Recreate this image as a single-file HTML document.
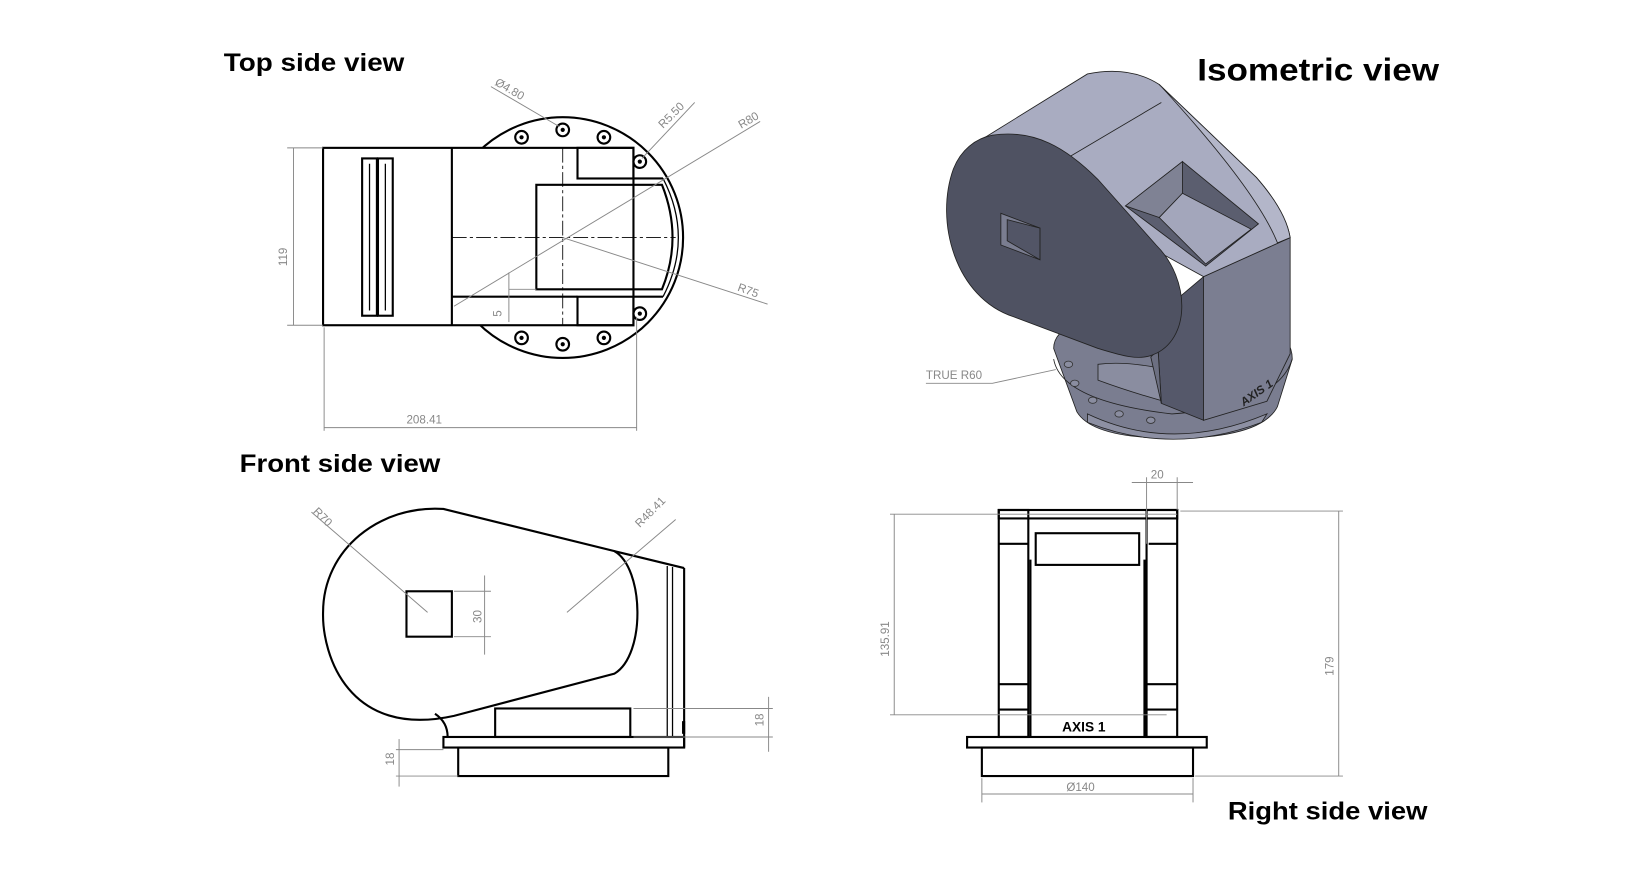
<!DOCTYPE html>
<html><head><meta charset="utf-8"><style>
html,body{margin:0;padding:0;background:#fff;}
svg{display:block;}
.t{font-family:"Liberation Sans",sans-serif;font-weight:bold;fill:#000;}
.d{font-family:"Liberation Sans",sans-serif;font-size:11px;fill:#888;}
.k{fill:none;stroke:#000;stroke-width:2;}
.k1{fill:none;stroke:#000;stroke-width:1.2;}
.g{fill:none;stroke:#888;stroke-width:0.9;}
.c{fill:none;stroke:#000;stroke-width:0.8;stroke-dasharray:14 3 3 3;}
</style></head><body>
<svg width="1647" height="869" viewBox="0 0 1560 823" xmlns="http://www.w3.org/2000/svg">
<rect width="1560" height="823" fill="#fff"/>
<text class="t" x="212" y="67" font-size="24" textLength="171" lengthAdjust="spacingAndGlyphs">Top side view</text>
<text class="t" x="1134" y="76" font-size="30" textLength="229" lengthAdjust="spacingAndGlyphs">Isometric view</text>
<text class="t" x="227" y="447" font-size="24" textLength="190" lengthAdjust="spacingAndGlyphs">Front side view</text>
<text class="t" x="1163" y="776" font-size="24" textLength="189" lengthAdjust="spacingAndGlyphs">Right side view</text>

<g>
<circle cx="533" cy="225" r="114" class="k" stroke-width="2.5"/>
<rect x="306" y="140" width="294" height="168" fill="#fff" stroke="#000" stroke-width="2"/>
<line x1="428" y1="140" x2="428" y2="308" class="k"/>
<rect x="547" y="140" width="53" height="29" class="k"/>
<rect x="547" y="281" width="53" height="27" class="k"/>
<line x1="428" y1="281" x2="547" y2="281" class="k"/>
<line x1="600" y1="169" x2="628" y2="169" class="k"/>
<line x1="600" y1="281" x2="628" y2="281" class="k"/>
<path d="M508,175 L627,175 Q647,225 627,274 L508,274 Z" class="k"/>
<path d="M628,169 Q657,225 628,281" class="k1"/>
<rect x="343" y="150" width="14" height="149" class="k"/>
<rect x="358" y="150" width="14" height="149" class="k"/>
<line x1="350" y1="155" x2="350" y2="294" class="k1"/>
<line x1="365" y1="155" x2="365" y2="294" class="k1"/>
<g fill="#fff" stroke="#000" stroke-width="2">
<circle cx="533" cy="123" r="6"/><circle cx="494" cy="130" r="6"/><circle cx="572" cy="130" r="6"/>
<circle cx="606" cy="153" r="6"/><circle cx="606" cy="297" r="6"/>
<circle cx="494" cy="320" r="6"/><circle cx="533" cy="326" r="6"/><circle cx="572" cy="320" r="6"/>
</g>
<g fill="#000"><circle cx="533" cy="123" r="2"/><circle cx="494" cy="130" r="2"/><circle cx="572" cy="130" r="2"/><circle cx="606" cy="153" r="2"/><circle cx="606" cy="297" r="2"/><circle cx="494" cy="320" r="2"/><circle cx="533" cy="326" r="2"/><circle cx="572" cy="320" r="2"/></g>
<line x1="533" y1="140" x2="533" y2="308" class="c"/>
<line x1="428" y1="225" x2="640" y2="225" class="c"/>
<line x1="465" y1="82" x2="530" y2="120" class="g"/>
<text class="d" x="468" y="80" transform="rotate(30 468 80)">Ø4.80</text>
<line x1="658" y1="97" x2="608" y2="150" class="g"/>
<text class="d" x="628" y="122" transform="rotate(-45 628 122)">R5.50</text>
<line x1="430" y1="290" x2="720" y2="115" class="g"/>
<text class="d" x="702" y="122" transform="rotate(-30 702 122)">R80</text>
<line x1="533" y1="225" x2="727" y2="288" class="g"/>
<text class="d" x="698" y="275" transform="rotate(20 698 275)">R75</text>
<line x1="482" y1="258" x2="482" y2="305" class="g"/>
<line x1="482" y1="274" x2="508" y2="274" class="g"/>
<text class="d" x="475" y="300" transform="rotate(-90 475 300)">5</text>
<line x1="272" y1="140" x2="306" y2="140" class="g"/>
<line x1="272" y1="308" x2="306" y2="308" class="g"/>
<line x1="278" y1="140" x2="278" y2="308" class="g"/>
<text class="d" x="272" y="252" transform="rotate(-90 272 252)">119</text>
<line x1="307" y1="310" x2="307" y2="408" class="g"/>
<line x1="603" y1="300" x2="603" y2="408" class="g"/>
<line x1="307" y1="405" x2="603" y2="405" class="g"/>
<text class="d" x="385" y="401">208.41</text>
</g>

<g stroke="#222" stroke-width="0.8">
<path d="M998,330 Q998,295 1110,295 Q1224,295 1224,340 L1210,385 Q1195,415 1110,415 Q1035,415 1020,390 Z" fill="#7a7d90"/>
<path d="M998,340 Q1005,380 1110,392 Q1210,385 1224,340" fill="none"/>
<path d="M1030,392 Q1110,430 1200,392 L1195,400 Q1110,432 1030,400 Z" fill="#8d90a3"/>
<path d="M1040,345 Q1080,340 1140,360 L1140,390 Q1080,375 1040,360 Z" fill="#8a8da0"/>
<path d="M1140,262 L1222,225 L1222,335 L1200,380 L1140,398 Z" fill="#7b7e91"/>
<path d="M1095,300 L1140,262 L1140,398 L1100,382 Z" fill="#55586a"/>
<path d="M925,135 L1030,70 Q1070,62 1098,80 L1190,168 Q1218,200 1222,225 L1140,262 L1100,240 L1060,215 L1000,160 Z" fill="#a9acc1"/>
<path d="M1098,80 L1190,168 Q1218,200 1222,225 L1210,230 Q1190,180 1100,82 Z" fill="#b3b6c9"/>
<line x1="990" y1="162" x2="1100" y2="97" />
<path d="M1066,195 L1120,153 L1192,212 L1142,252 Z" fill="#5b5e6f"/>
<path d="M1066,195 L1120,153 L1120,183 L1098,206 Z" fill="#7f8294"/>
<path d="M1098,206 L1120,183 L1185,217 L1142,250 Z" fill="#a3a6bb"/>
<path d="M1060,215 Q1110,250 1105,300 Q1100,330 1090,338 L1100,382 L1095,300 Z" fill="#6c6f81"/>
<path d="M940,128 C980,122 1010,140 1040,170 L1095,232 C1128,265 1128,322 1092,336 C1078,342 1060,336 1040,330 L960,300 C905,282 885,210 903,160 C910,142 924,131 940,128 Z" fill="#4f5262"/>
<path d="M948,202 L985,216 L985,246 L948,232 Z" fill="#7a7d90"/>
<path d="M954,208 L985,216 L985,246 L954,228 Z" fill="#525566"/>
<g fill="#8a8da0" stroke="#333"><ellipse cx="1012" cy="345" rx="4" ry="3"/><ellipse cx="1018" cy="363" rx="4" ry="3"/><ellipse cx="1035" cy="379" rx="4" ry="3"/><ellipse cx="1060" cy="392" rx="4" ry="3"/><ellipse cx="1090" cy="398" rx="4" ry="3"/></g>
</g>
<text x="1178" y="385" font-family="Liberation Sans,sans-serif" font-size="11" font-weight="bold" font-style="italic" fill="#222" transform="rotate(-35 1178 385)">AXIS 1</text>
<polyline points="877,363 940,363 1000,350" class="g"/>
<text class="d" x="877" y="359">TRUE R60</text>

<g>
<path d="M420,482 L582,522 C610,538 612,620 582,638 L430,678 C330,700 305,620 306,580 C306,520 360,478 420,482 Z" class="k" stroke-width="2.5"/>
<line x1="582" y1="522" x2="648" y2="538" class="k"/>
<line x1="648" y1="538" x2="648" y2="708" class="k"/>
<line x1="632" y1="536" x2="632" y2="698" class="k1"/>
<line x1="637" y1="537" x2="637" y2="698" class="k1"/>
<path d="M412,676 Q424,684 424,698" class="k"/>
<rect x="469" y="671" width="128" height="27" class="k" stroke-width="2.5"/>
<rect x="420" y="698" width="228" height="10" class="k"/>
<rect x="434" y="708" width="199" height="27" class="k"/>
<rect x="385" y="560" width="43" height="43" class="k"/>
<line x1="430" y1="560" x2="465" y2="560" class="g"/>
<line x1="430" y1="603" x2="465" y2="603" class="g"/>
<line x1="459" y1="545" x2="459" y2="620" class="g"/>
<text class="d" x="456" y="590" transform="rotate(-90 456 590)">30</text>
<line x1="295" y1="485" x2="405" y2="580" class="g"/>
<text class="d" x="296" y="485" transform="rotate(45 296 485)">R70</text>
<line x1="640" y1="492" x2="537" y2="580" class="g"/>
<text class="d" x="606" y="500" transform="rotate(-45 606 500)">R48.41</text>
<line x1="600" y1="671" x2="732" y2="671" class="g"/>
<line x1="600" y1="698" x2="732" y2="698" class="g"/>
<line x1="728" y1="660" x2="728" y2="712" class="g"/>
<text class="d" x="723" y="688" transform="rotate(-90 723 688)">18</text>
<rect x="646" y="683" width="3" height="12" fill="#000"/>
<line x1="375" y1="710" x2="420" y2="710" class="g"/>
<line x1="375" y1="735" x2="434" y2="735" class="g"/>
<line x1="378" y1="700" x2="378" y2="745" class="g"/>
<text class="d" x="373" y="725" transform="rotate(-90 373 725)">18</text>
</g>

<g>
<rect x="946" y="483" width="169" height="8" class="k"/>
<rect x="946" y="483" width="28" height="215" class="k"/>
<rect x="1086" y="483" width="29" height="215" class="k"/>
<line x1="976" y1="530" x2="976" y2="698" class="k"/>
<line x1="1084" y1="530" x2="1084" y2="698" class="k"/>
<rect x="981" y="505" width="98" height="30" class="k"/>
<line x1="946" y1="515" x2="974" y2="515" class="k"/>
<line x1="1088" y1="515" x2="1115" y2="515" class="k"/>
<line x1="946" y1="648" x2="974" y2="648" class="k"/>
<line x1="1086" y1="648" x2="1115" y2="648" class="k"/>
<line x1="946" y1="672" x2="974" y2="672" class="k"/>
<line x1="1086" y1="672" x2="1115" y2="672" class="k"/>
<rect x="916" y="698" width="227" height="10" class="k"/>
<rect x="930" y="708" width="200" height="27" class="k"/>
<text x="1006" y="693" font-family="Liberation Sans,sans-serif" font-size="13" font-weight="bold" fill="#000">AXIS 1</text>
<line x1="843" y1="487" x2="1115" y2="487" class="g"/>
<line x1="843" y1="677" x2="1105" y2="677" class="g"/>
<line x1="847" y1="487" x2="847" y2="677" class="g"/>
<text class="d" x="842" y="622" transform="rotate(-90 842 622)">135.91</text>
<line x1="1118" y1="484" x2="1272" y2="484" class="g"/>
<line x1="1132" y1="735" x2="1272" y2="735" class="g"/>
<line x1="1268" y1="484" x2="1268" y2="735" class="g"/>
<text class="d" x="1263" y="640" transform="rotate(-90 1263 640)">179</text>
<line x1="1072" y1="457" x2="1130" y2="457" class="g"/>
<line x1="1086" y1="452" x2="1086" y2="515" class="g"/>
<line x1="1115" y1="452" x2="1115" y2="483" class="g"/>
<text class="d" x="1090" y="453">20</text>
<line x1="930" y1="737" x2="930" y2="760" class="g"/>
<line x1="1130" y1="737" x2="1130" y2="760" class="g"/>
<line x1="930" y1="752" x2="1130" y2="752" class="g"/>
<text class="d" x="1010" y="749">Ø140</text>
</g>
</svg>
</body></html>
